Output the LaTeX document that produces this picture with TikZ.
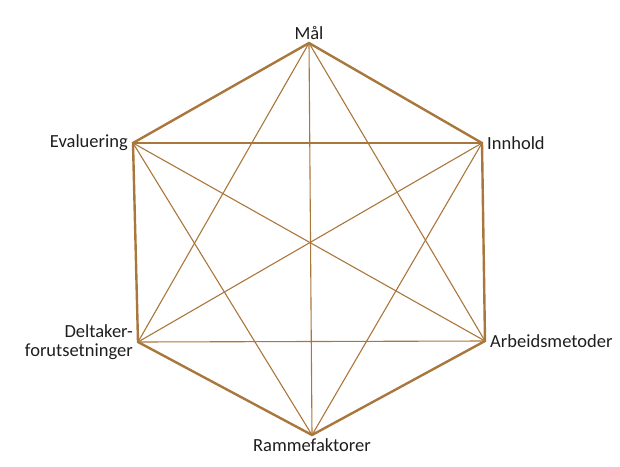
\documentclass[tikz,border=0pt]{standalone}
\usepackage{fontspec}
\setmainfont{Carlito}
\usetikzlibrary{positioning}
\definecolor{bronze}{HTML}{A9773C}
\definecolor{ink}{HTML}{1E1E1E}

\begin{document}
\begin{tikzpicture}[
  x=1pt,y=-1pt,
  font=\fontsize{18.5}{19}\selectfont,
  rim/.style={draw=bronze,line width=2.4pt,line join=miter},
  chord/.style={draw=bronze,line width=1.1pt},
  lbl/.style={text=ink,inner sep=2pt,align=center}
]
\useasboundingbox (0,0) rectangle (620,466);

% vertices of the hexagon
\coordinate (maal) at (309,43);
\coordinate (innhold) at (482,143);
\coordinate (arbeid) at (485,341);
\coordinate (ramme) at (312,435);
\coordinate (deltaker) at (138,342);
\coordinate (evaluering) at (133,143);

% diagonals
\draw[chord] (maal) -- (arbeid);
\draw[chord] (maal) -- (ramme);
\draw[chord] (maal) -- (deltaker);
\draw[chord] (innhold) -- (ramme);
\draw[chord] (innhold) -- (deltaker);
\draw[chord] (innhold) -- (evaluering);
\draw[chord] (arbeid) -- (deltaker);
\draw[chord] (arbeid) -- (evaluering);
\draw[chord] (ramme) -- (evaluering);

% outer edge
\draw[rim] (maal) -- (innhold) -- (arbeid) -- (ramme) -- (deltaker) -- (evaluering) -- cycle;

% labels
\node[lbl,above=1pt of maal] (tmaal) {Mål};
\node[lbl,right=3pt of innhold] (tinnhold) {Innhold};
\node[lbl,right=3pt of arbeid] (tarbeid) {Arbeidsmetoder};
\node[lbl,below=1pt of ramme] (tramme) {Rammefaktorer};
\node[lbl,left=3pt of deltaker,align=right] (tdeltaker) {Deltaker-\\forutsetninger};
\node[lbl,left=3pt of evaluering] (tevaluering) {Evaluering};
\end{tikzpicture}
\end{document}
